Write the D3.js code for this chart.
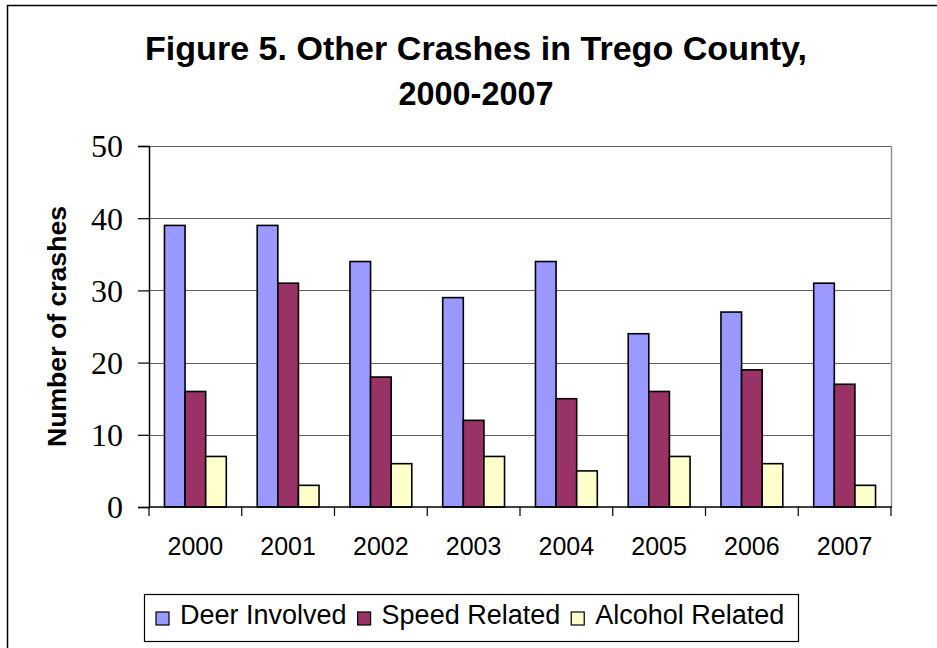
<!DOCTYPE html>
<html>
  <head>
    <title>Other crashes in Trego County</title>
    <meta charset="utf-8" />
    <script src="https://d3js.org/d3.v7.min.js"></script>
    <style>
      body {
        margin: 0;
        background: #fff;
      }
    </style>
  </head>
  <body>
    <script>
      // data
      const years = ["2000", "2001", "2002", "2003", "2004", "2005", "2006", "2007"];
      const seriesNames = ["Deer Involved", "Speed Related", "Alcohol Related"];
      const deer = [39, 39, 34, 29, 34, 24, 27, 31];
      const speed = [16, 31, 18, 12, 15, 16, 19, 17];
      const alcohol = [7, 3, 6, 7, 5, 7, 6, 3];
      const yTicks = [0, 10, 20, 30, 40, 50];
      const colors = ["#9999ff", "#993366", "#ffffcc"];

      const width = 937;
      const height = 648;
      const plot = { left: 149, right: 891, top: 146, bottom: 507 };

      const svg = d3
        .select("body")
        .append("svg")
        .attr("width", width)
        .attr("height", height);

      // outer chart frame
      svg
        .append("path")
        .attr("d", `M7.5,${height} V5.5 H${width}`)
        .attr("fill", "none")
        .attr("stroke", "#000")
        .attr("stroke-width", 1.5);

      // title (the original font is a bit narrow, so stretch to its width)
      const title = svg
        .append("text")
        .attr("text-anchor", "middle")
        .attr("font-family", "Liberation Sans, Arial, sans-serif")
        .attr("font-weight", "bold")
        .attr("font-size", "33px")
        .attr("fill", "#000");
      title
        .append("tspan")
        .attr("x", 476)
        .attr("y", 60)
        .attr("textLength", 662)
        .attr("lengthAdjust", "spacingAndGlyphs")
        .text("Figure 5. Other Crashes in Trego County,");
      title
        .append("tspan")
        .attr("x", 476)
        .attr("y", 105)
        .attr("textLength", 155)
        .attr("lengthAdjust", "spacingAndGlyphs")
        .text("2000-2007");

      const x = d3
        .scaleBand()
        .domain(years)
        .range([plot.left, plot.right]);

      // Excel style gap width 150%
      const x1 = d3
        .scaleBand()
        .domain(seriesNames)
        .range([0, x.bandwidth()])
        .paddingInner(0)
        .paddingOuter(0.75);

      const y = d3.scaleLinear().domain([0, 50]).range([plot.bottom, plot.top]);

      // gridlines
      svg
        .append("g")
        .selectAll("line")
        .data(yTicks.slice(1))
        .join("line")
        .attr("x1", plot.left)
        .attr("x2", plot.right)
        .attr("y1", (d) => Math.round(y(d)) + 0.5)
        .attr("y2", (d) => Math.round(y(d)) + 0.5)
        .attr("stroke", "#606060")
        .attr("stroke-width", 1.2);

      // right border of plot area
      svg
        .append("line")
        .attr("x1", plot.right + 0.5)
        .attr("x2", plot.right + 0.5)
        .attr("y1", plot.top)
        .attr("y2", plot.bottom)
        .attr("stroke", "#909090")
        .attr("stroke-width", 1.5);

      // bars
      const table = years.map((yr, i) => ({
        year: yr,
        values: [deer[i], speed[i], alcohol[i]],
      }));

      svg
        .append("g")
        .selectAll("g")
        .data(table)
        .join("g")
        .attr("transform", (d) => `translate(${x(d.year)},0)`)
        .selectAll("rect")
        .data((d) => d.values.map((v, j) => ({ key: seriesNames[j], value: v, j: j })))
        .join("rect")
        .attr("x", (d) => x1(d.key))
        .attr("y", (d) => y(d.value))
        .attr("width", x1.bandwidth())
        .attr("height", (d) => y(0) - y(d.value))
        .attr("fill", (d) => colors[d.j])
        .attr("stroke", "#000")
        .attr("stroke-width", 1.6);

      // y axis
      const yAxis = svg
        .append("g")
        .attr("transform", `translate(${plot.left},0)`)
        .call(d3.axisLeft(y).tickValues(yTicks).tickSize(11).tickPadding(15));
      yAxis.select(".domain").attr("stroke", "#000").attr("stroke-width", 1.5);
      yAxis.selectAll(".tick line").attr("stroke", "#000").attr("stroke-width", 1.2);
      yAxis
        .selectAll(".tick text")
        .attr("font-family", "Liberation Serif, Times New Roman, serif")
        .attr("font-size", "32px")
        .attr("fill", "#000")
        .attr("dy", "0.34em");

      // x axis with ticks on category boundaries
      const xAxis = svg.append("g").attr("transform", `translate(0,${plot.bottom})`);
      xAxis
        .append("line")
        .attr("x1", plot.left)
        .attr("x2", plot.right + 1)
        .attr("stroke", "#000")
        .attr("stroke-width", 1.5);
      const bounds = years.map((d) => x(d)).concat([plot.right]);
      xAxis
        .selectAll("line.tk")
        .data(bounds)
        .join("line")
        .attr("class", "tk")
        .attr("x1", (d) => d)
        .attr("x2", (d) => d)
        .attr("y1", 0)
        .attr("y2", 9)
        .attr("stroke", "#000")
        .attr("stroke-width", 1.2);
      xAxis
        .selectAll("text")
        .data(years)
        .join("text")
        .attr("x", (d) => x(d) + x.bandwidth() / 2)
        .attr("y", 48)
        .attr("text-anchor", "middle")
        .attr("font-family", "Liberation Sans, Arial, sans-serif")
        .attr("font-size", "25px")
        .attr("fill", "#000")
        .text((d) => d);

      // y axis title
      svg
        .append("text")
        .attr("transform", `translate(66,${(plot.top + plot.bottom) / 2}) rotate(-90)`)
        .attr("text-anchor", "middle")
        .attr("font-family", "Liberation Sans, Arial, sans-serif")
        .attr("font-weight", "bold")
        .attr("font-size", "25px")
        .attr("textLength", 241)
        .attr("lengthAdjust", "spacingAndGlyphs")
        .attr("fill", "#000")
        .text("Number of crashes");

      // legend
      const legend = svg.append("g");
      legend
        .append("rect")
        .attr("x", 144.5)
        .attr("y", 594.5)
        .attr("width", 654)
        .attr("height", 47)
        .attr("fill", "#fff")
        .attr("stroke", "#000")
        .attr("stroke-width", 1.2);

      let lx = 156;
      seriesNames.forEach((name, i) => {
        legend
          .append("rect")
          .attr("x", lx)
          .attr("y", 612)
          .attr("width", 13)
          .attr("height", 13)
          .attr("fill", colors[i])
          .attr("stroke", "#000")
          .attr("stroke-width", 1.2);
        const t = legend
          .append("text")
          .attr("x", lx + 24)
          .attr("y", 624)
          .attr("font-family", "Liberation Sans, Arial, sans-serif")
          .attr("font-size", "27px")
          .attr("fill", "#000")
          .text(name);
        lx += 24 + t.node().getComputedTextLength() + 11;
      });
    </script>
  </body>
</html>
